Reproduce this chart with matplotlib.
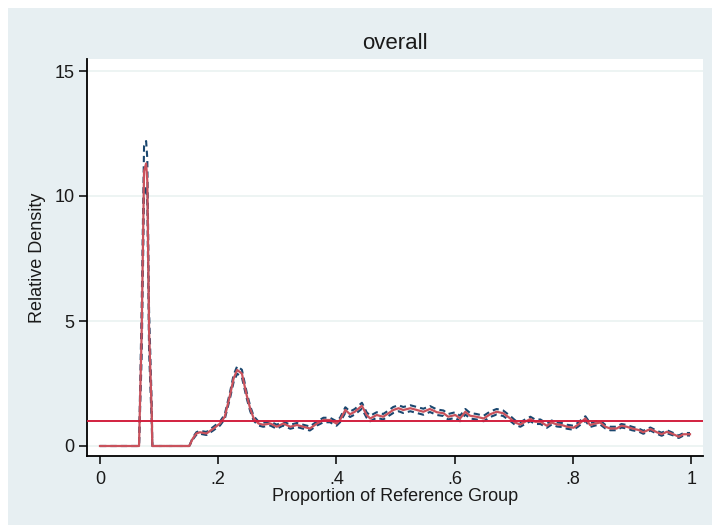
import numpy as np
import matplotlib
matplotlib.use("Agg")
import matplotlib.pyplot as plt
from matplotlib.patches import Rectangle

plt.rcParams['font.family'] = ['Liberation Sans', 'DejaVu Sans']

# proportion of reference group (x) and relative density
prop = [0.0, 0.066, 0.0705, 0.0745, 0.078, 0.080, 0.083, 0.0875, 0.0885,
        0.151, 0.157, 0.163, 0.169, 0.18, 0.192, 0.203, 0.211, 0.22, 0.226,
        0.232, 0.24, 0.248, 0.254, 0.26, 0.268, 0.276, 0.288, 0.299, 0.31,
        0.322, 0.333, 0.344, 0.355, 0.367, 0.378, 0.389, 0.40, 0.406, 0.415,
        0.423, 0.431, 0.443, 0.451, 0.457, 0.468, 0.479, 0.488, 0.496, 0.505,
        0.513, 0.525, 0.536, 0.547, 0.558, 0.57, 0.581, 0.589, 0.601, 0.609,
        0.618, 0.626, 0.637, 0.649, 0.66, 0.671, 0.682, 0.694, 0.702, 0.711,
        0.719, 0.728, 0.736, 0.745, 0.756, 0.764, 0.773, 0.781, 0.79, 0.801,
        0.809, 0.821, 0.829, 0.838, 0.846, 0.855, 0.863, 0.874, 0.882, 0.891,
        0.9, 0.911, 0.919, 0.931, 0.942, 0.95, 0.959, 0.97, 0.979, 0.987, 0.998]

dens = [0.0, 0.0, 4.6, 11.0, 11.3, 10.6, 4.6, 1.3, 0.0,
        0.0, 0.3, 0.5, 0.55, 0.5, 0.7, 0.9, 1.17, 2.04, 2.7,
        3.04, 2.9, 2.04, 1.5, 1.1, 0.9, 0.85, 0.9, 0.77, 0.9,
        0.77, 0.84, 0.77, 0.7, 0.9, 1.04, 1.04, 0.9, 1.04, 1.44,
        1.27, 1.37, 1.61, 1.24, 1.1, 1.24, 1.17, 1.31, 1.44, 1.51,
        1.44, 1.51, 1.44, 1.37, 1.48, 1.35, 1.31, 1.17, 1.24, 1.1,
        1.37, 1.21, 1.17, 1.1, 1.27, 1.37, 1.31, 1.1, 0.94, 0.86,
        0.97, 1.08, 0.97, 0.97, 0.81, 0.94, 0.86, 0.84, 0.77, 0.73,
        0.86, 1.1, 0.84, 0.9, 0.94, 0.77, 0.7, 0.7, 0.81, 0.77,
        0.7, 0.64, 0.55, 0.68, 0.55, 0.47, 0.57, 0.47, 0.37, 0.47, 0.47]

# half width of the confidence band (dashed lines)
band = [0.0, 0.0, 1.0, 1.0, 0.9, 0.9, 0.8, 0.4, 0.0,
        0.0, 0.04, 0.05, 0.06, 0.06, 0.07, 0.08, 0.09, 0.12, 0.14,
        0.15, 0.15, 0.12, 0.1, 0.09, 0.08, 0.08, 0.08, 0.08, 0.08,
        0.08, 0.08, 0.08, 0.08, 0.08, 0.09, 0.09, 0.09, 0.09, 0.11,
        0.11, 0.11, 0.12, 0.11, 0.11, 0.11, 0.11, 0.11, 0.12, 0.12,
        0.12, 0.12, 0.12, 0.12, 0.12, 0.11, 0.11, 0.11, 0.11, 0.11,
        0.11, 0.11, 0.11, 0.11, 0.11, 0.11, 0.11, 0.1, 0.09, 0.09,
        0.09, 0.09, 0.09, 0.09, 0.08, 0.08, 0.08, 0.08, 0.08, 0.08,
        0.08, 0.09, 0.08, 0.08, 0.08, 0.07, 0.07, 0.07, 0.07, 0.07,
        0.07, 0.06, 0.06, 0.06, 0.06, 0.06, 0.06, 0.05, 0.05, 0.05, 0.05]

ref_level = 1.0
xticks = [0, 0.2, 0.4, 0.6, 0.8, 1.0]
xticklabels = ['0', '.2', '.4', '.6', '.8', '1']
yticks = [0, 5, 10, 15]

prop = np.array(prop)
dens = np.array(dens)
band = np.array(band)

fig = plt.figure(figsize=(7.12, 5.25), dpi=100)
fig.patch.set_facecolor('white')
# stata style light background, white strip at top/left like the screenshot
bg = Rectangle((8 / 712, 0), 1, 517 / 525, transform=fig.transFigure,
               facecolor='#e7eff2', edgecolor='none', zorder=-10)
fig.add_artist(bg)

ax = fig.add_axes([87 / 712, 69 / 525, 616 / 712, 397 / 525])
ax.set_zorder(1)
ax.set_facecolor('white')

for yv in yticks:
    ax.axhline(yv, color='#eaf2f1', lw=1.2, zorder=1)

ax.plot(prop, dens + band, color='#1a476f', lw=1.5, ls=(0, (3, 2)), zorder=3)
ax.plot(prop, dens - band, color='#1a476f', lw=1.5, ls=(0, (3, 2)), zorder=3)
ax.plot(prop, dens, color='#c9525c', lw=1.6, zorder=4)
ax.axhline(ref_level, color='#d2203f', lw=1.4, zorder=5)

ax.set_xlim(-0.022, 1.02)
ax.set_ylim(-0.4, 15.48)
ax.set_xticks(xticks)
ax.set_xticklabels(xticklabels)
ax.set_yticks(yticks)

for s in ['top', 'right']:
    ax.spines[s].set_visible(False)
for s in ['left', 'bottom']:
    ax.spines[s].set_linewidth(1.3)
    ax.spines[s].set_color('black')
ax.tick_params(axis='both', direction='out', length=6, width=1.1,
               labelsize=13, colors='black', labelcolor='#1a1a1a')
ax.tick_params(axis='x', pad=5)
ax.tick_params(axis='y', pad=3)

ax.set_xlabel('Proportion of Reference Group', fontsize=13, labelpad=0, color='#1a1a1a')
ax.set_ylabel('Relative Density', fontsize=13, labelpad=6, color='#1a1a1a')
ax.set_title('overall', fontsize=16, pad=7, color='#1a1a1a')

fig.savefig('out.png', dpi=100, facecolor=fig.get_facecolor())
